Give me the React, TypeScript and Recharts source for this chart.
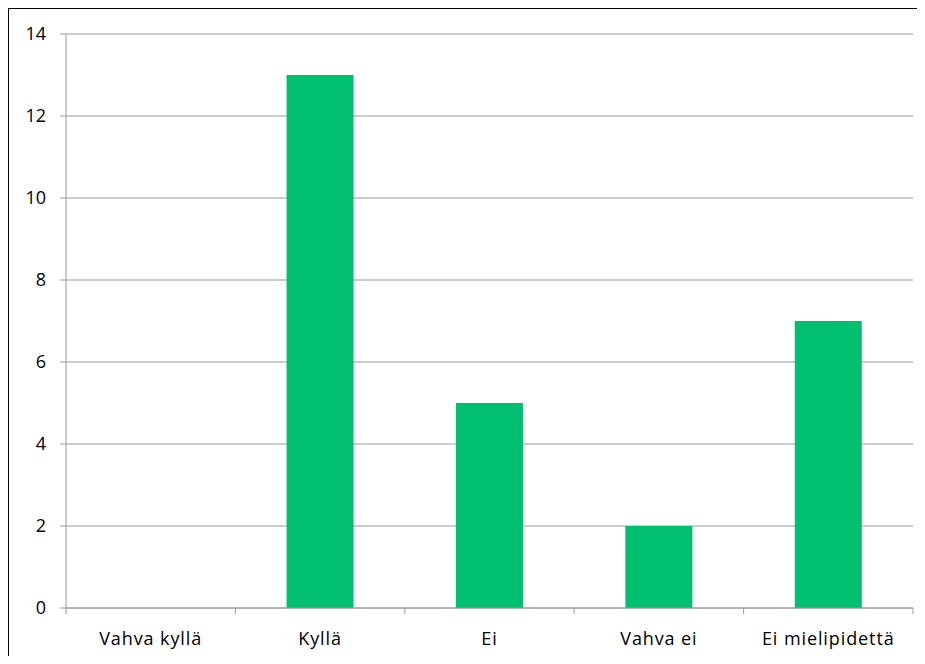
import { BarChart, Bar, XAxis, YAxis, CartesianGrid } from 'recharts'

const categories = ['Vahva kyllä', 'Kyllä', 'Ei', 'Vahva ei', 'Ei mielipidettä']
const answers = [0, 13, 5, 2, 7]
const yTicks = [0, 2, 4, 6, 8, 10, 12, 14]

const chartData = categories.map((name, i) => ({ name, value: answers[i] }))

const axisGray = '#9a9a9a'
const font = '"Open Sans", sans-serif'

// category ticks sit on the band edges, not the centres
function CategoryTick(props: any) {
    const { x, y, payload, index, visibleTicksCount } = props
    const half = payload.offset ?? 0
    return (
        <g>
            <line x1={x - half} x2={x - half} y1={y} y2={y + 6} stroke={axisGray} />
            {index === visibleTicksCount - 1 && (
                <line x1={x + half} x2={x + half} y1={y} y2={y + 6} stroke={axisGray} />
            )}
            <text
                x={x}
                y={y + 37}
                textAnchor="middle"
                fontSize={18}
                letterSpacing={0.9}
                fontFamily={font}
                fill="#000"
            >
                {payload.value}
            </text>
        </g>
    )
}

export default function App() {
    return (
        <div style={{ position: 'relative', width: 909, height: 648 }}>
            <BarChart
                width={909}
                height={648}
                data={chartData}
                margin={{ top: 26, right: 4, bottom: 0, left: 0 }}
                barCategoryGap="30.2%"
            >
                <CartesianGrid vertical={false} stroke={axisGray} />
                <XAxis
                    dataKey="name"
                    height={48}
                    tickSize={0}
                    tickMargin={0}
                    tickLine={false}
                    stroke={axisGray}
                    tick={<CategoryTick />}
                    interval={0}
                />
                <YAxis
                    width={58}
                    domain={[0, 14]}
                    ticks={yTicks}
                    tickSize={6}
                    tickMargin={14}
                    stroke={axisGray}
                    tick={{ fill: '#000', fontSize: 18, fontFamily: font }}
                    allowDecimals={false}
                />
                <Bar dataKey="value" fill="#00BF6F" isAnimationActive={false} />
            </BarChart>
            {/* frame: only the top and left edges fall inside the window */}
            <div style={{ position: 'absolute', left: -1, top: -1, width: 918, height: 2, background: '#000' }} />
            <div style={{ position: 'absolute', left: -1, top: -1, width: 2, height: 657, background: '#000' }} />
        </div>
    )
}
